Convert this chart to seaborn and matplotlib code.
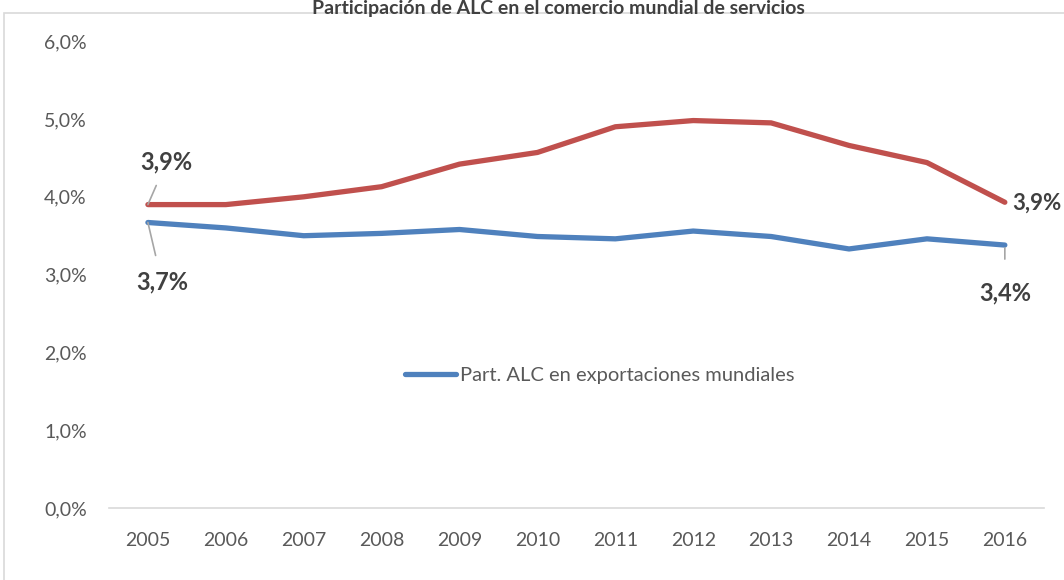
import numpy as np
import pandas as pd
import matplotlib
matplotlib.use("Agg")
import matplotlib.pyplot as plt
import seaborn as sns
from matplotlib.patches import Rectangle

# datos (%)
anios = [2005, 2006, 2007, 2008, 2009, 2010, 2011, 2012, 2013, 2014, 2015, 2016]
part_import = [3.90, 3.90, 4.00, 4.13, 4.42, 4.57, 4.90, 4.98, 4.95, 4.66, 4.44, 3.93]
part_export = [3.67, 3.60, 3.50, 3.53, 3.58, 3.49, 3.46, 3.56, 3.49, 3.33, 3.46, 3.38]
ticks_y = [0, 1, 2, 3, 4, 5, 6]
titulo = "Participación de ALC en el comercio mundial de servicios"
nombre_export = "Part. ALC en exportaciones mundiales"
nombre_import = "Part. ALC en importaciones mundiales"

ROJO = "#C0504D"
AZUL = "#4F81BD"
GRIS = "#595959"

sns.set_style("white")
plt.rcParams["font.family"] = ["Lato", "DejaVu Sans"]

df = pd.DataFrame({"anio": anios, "imp": part_import, "exp": part_export})

fig = plt.figure(figsize=(10.64, 5.8), dpi=100)
ax = fig.add_axes([0.1024, 0.124, 0.8786, 0.805])

# borde del area del grafico
fig.patches.append(Rectangle((4 / 1064, -0.01), 1.02, 1 - 13 / 580 + 0.01,
                             transform=fig.transFigure, fill=False,
                             edgecolor="#D9D9D9", linewidth=1.2))

sns.lineplot(data=df, x="anio", y="imp", ax=ax, color=ROJO, linewidth=3.8,
             label=nombre_import, legend=False, solid_capstyle="round")
sns.lineplot(data=df, x="anio", y="exp", ax=ax, color=AZUL, linewidth=3.8,
             label=nombre_export, legend=False, solid_capstyle="round")

ax.set_xlim(anios[0] - 0.5, anios[-1] + 0.5)
ax.set_ylim(0, 6)
ax.set_yticks(ticks_y)
ax.set_yticklabels([f"{t:.1f}%".replace(".", ",") for t in ticks_y])
ax.set_xticks(anios)
ax.set_xticklabels([str(a) for a in anios])
ax.tick_params(axis="both", length=0, labelsize=14, labelcolor=GRIS)
ax.tick_params(axis="x", pad=17)
ax.tick_params(axis="y", pad=16)
ax.set_xlabel("")
ax.set_ylabel("")
for s in ["top", "right", "left"]:
    ax.spines[s].set_visible(False)
ax.spines["bottom"].set_color("#D9D9D9")
ax.spines["bottom"].set_linewidth(1.2)

# etiquetas de datos
fmt = lambda v: f"{v:.1f}%".replace(".", ",")
lead = dict(arrowstyle="-", color="#A6A6A6", lw=1.2)
kw = dict(fontsize=17, fontweight="bold", color="#404040", va="center")
ax.annotate(fmt(part_import[0]), xy=(anios[0], part_import[0]), xytext=(anios[0] + 0.24, 4.45),
            ha="center", arrowprops=dict(lead, shrinkA=7, shrinkB=0), **kw)
ax.annotate(fmt(part_export[0]), xy=(anios[0], part_export[0]), xytext=(anios[0] + 0.18, 2.90),
            ha="center", arrowprops=dict(lead, shrinkA=9, shrinkB=0), **kw)
ax.annotate(fmt(part_import[-1]), xy=(anios[-1], part_import[-1]), xytext=(anios[-1] + 0.1, 3.92),
            ha="left", **dict(kw, fontsize=16))
ax.annotate(fmt(part_export[-1]), xy=(anios[-1], part_export[-1]), xytext=(anios[-1], 2.76),
            ha="center", arrowprops=dict(lead, shrinkA=14, shrinkB=2), **kw)

# leyenda (solo la serie de exportaciones)
h = [l for l in ax.get_lines() if l.get_label() == nombre_export]
leg = ax.legend(handles=h, loc="center", bbox_to_anchor=(0.525, 0.283), frameon=False,
                fontsize=14.5, handlelength=2.5, handletextpad=0.2)
for t in leg.get_texts():
    t.set_color(GRIS)

fig.text(0.525, 1.0, titulo, ha="center", va="top", fontsize=14,
         fontweight="bold", color="#404040")

fig.savefig("out.png", dpi=100)
